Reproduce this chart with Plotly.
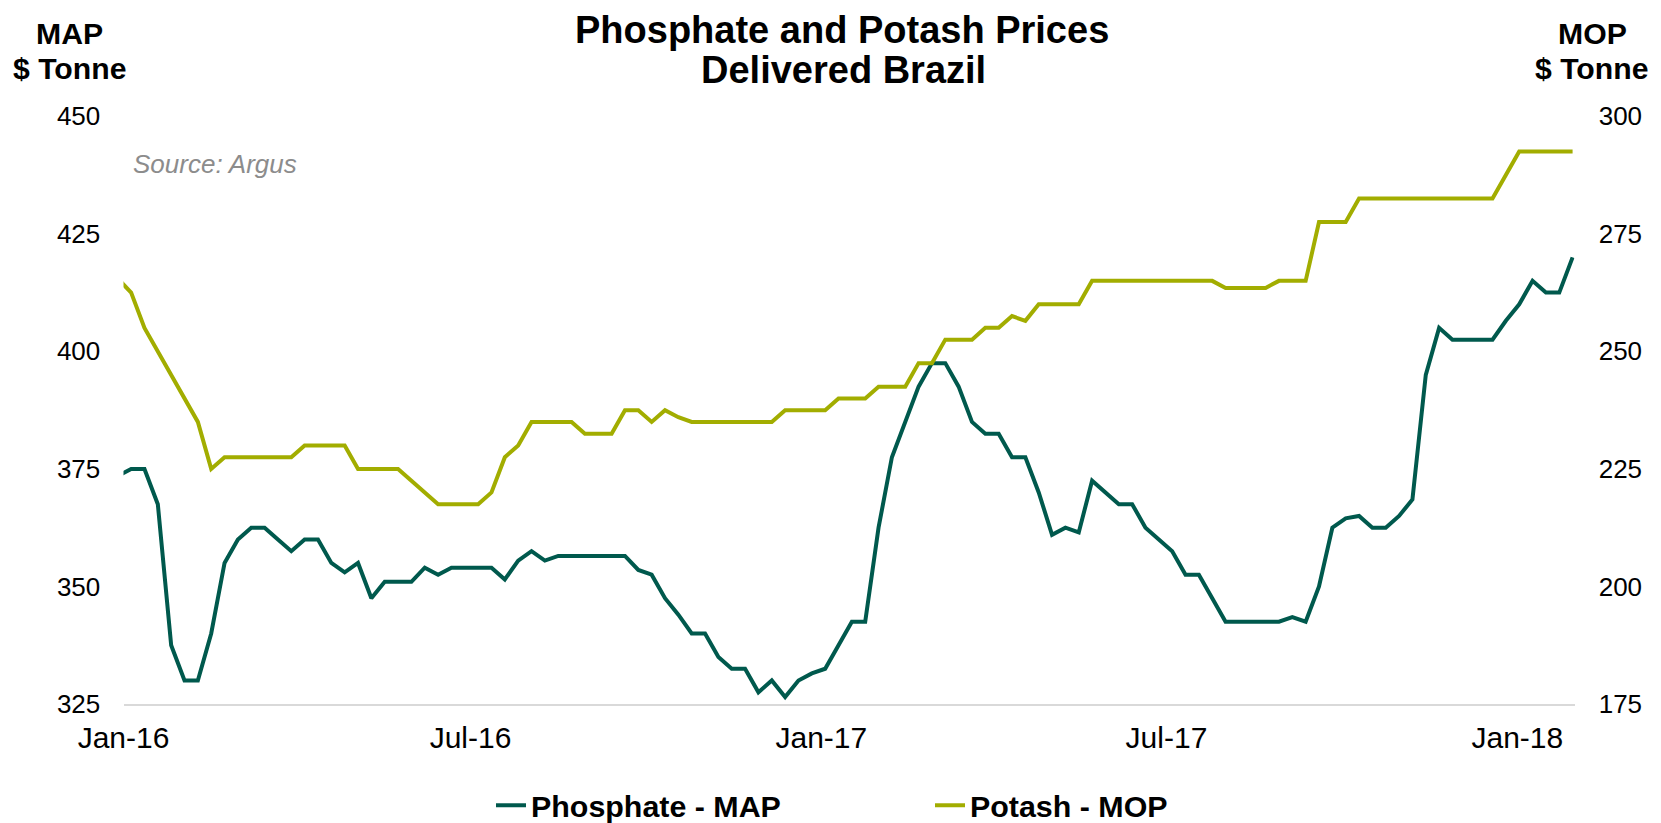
import pandas as pd
import plotly.graph_objects as go

# Weekly observation dates (first week starts just before the axis start)
start_date = "2015-12-29"
n_weeks = 110

# Phosphate - MAP, $/tonne (left axis)
map_prices = [
    373.5, 375, 375, 367.5, 337.5, 330, 330, 340, 355, 360,
    362.5, 362.5, 360, 357.5, 360, 360, 355, 353, 355, 347.5,
    351, 351, 351, 354, 352.5, 354, 354, 354, 354, 351.5,
    355.5, 357.5, 355.5, 356.5, 356.5, 356.5, 356.5, 356.5, 356.5, 353.5,
    352.5, 347.5, 344, 340, 340, 335, 332.5, 332.5, 327.5, 330,
    326.5, 330, 331.5, 332.5, 337.5, 342.5, 342.5, 362.5, 377.5, 385,
    392.5, 397.5, 397.5, 392.5, 385, 382.5, 382.5, 377.5, 377.5, 370,
    361, 362.5, 361.5, 372.5, 370, 367.5, 367.5, 362.5, 360, 357.5,
    352.5, 352.5, 347.5, 342.5, 342.5, 342.5, 342.5, 342.5, 343.5, 342.5,
    350, 362.5, 364.5, 365, 362.5, 362.5, 365, 368.5, 395, 405,
    402.5, 402.5, 402.5, 402.5, 406.5, 410, 415, 412.5, 412.5, 420,
]

# Potash - MOP, $/tonne (right axis)
mop_prices = [
    265.5, 262.5, 255, 250, 245, 240, 235, 225, 227.5, 227.5,
    227.5, 227.5, 227.5, 227.5, 230, 230, 230, 230, 225, 225,
    225, 225, 222.5, 220, 217.5, 217.5, 217.5, 217.5, 220, 227.5,
    230, 235, 235, 235, 235, 232.5, 232.5, 232.5, 237.5, 237.5,
    235, 237.5, 236, 235, 235, 235, 235, 235, 235, 235,
    237.5, 237.5, 237.5, 237.5, 240, 240, 240, 242.5, 242.5, 242.5,
    247.5, 247.5, 252.5, 252.5, 252.5, 255, 255, 257.5, 256.5, 260,
    260, 260, 260, 265, 265, 265, 265, 265, 265, 265,
    265, 265, 265, 263.5, 263.5, 263.5, 263.5, 265, 265, 265,
    277.5, 277.5, 277.5, 282.5, 282.5, 282.5, 282.5, 282.5, 282.5, 282.5,
    282.5, 282.5, 282.5, 282.5, 287.5, 292.5, 292.5, 292.5, 292.5, 292.5,
]

x_tick_dates = ["2016-01-01", "2016-07-01", "2017-01-01", "2017-07-01", "2018-01-01"]
x_tick_labels = ["Jan-16", "Jul-16", "Jan-17", "Jul-17", "Jan-18"]
map_ticks = [325, 350, 375, 400, 425, 450]
mop_ticks = [175, 200, 225, 250, 275, 300]

dates = pd.date_range(start_date, periods=n_weeks, freq="7D")

MAP_COLOR = "#00594d"
MOP_COLOR = "#a2ad00"
FONT = "Liberation Sans, Arial, sans-serif"

# Figure geometry (page is offset by the default 8px body margin)
OFF = 8
W, H = 1661, 830


def fx(page_x):
    return (page_x - OFF) / W


def fy(page_y):
    return 1 - (page_y - OFF) / H


fig = go.Figure()
fig.add_trace(go.Scatter(
    x=dates, y=map_prices, name="Phosphate - MAP", mode="lines",
    line=dict(color=MAP_COLOR, width=4), yaxis="y",
))
fig.add_trace(go.Scatter(
    x=dates, y=mop_prices, name="Potash - MOP", mode="lines",
    line=dict(color=MOP_COLOR, width=4), yaxis="y2",
))

texts = [
    ("<b>Phosphate and Potash Prices</b>", 842, 30.0, 38),
    ("<b>Delivered Brazil</b>", 843, 70, 38),
    ("<b>MAP</b>", 69.8, 33.8, 30.2),
    ("<b>$ Tonne</b>", 69.5, 68, 30.2),
    ("<b>MOP</b>", 1592, 33.0, 30.2),
    ("<b>$ Tonne</b>", 1591.6, 68.7, 30.2),
]
ann_objs = []
for txt, px, py, size in texts:
    ann_objs.append(dict(
        text=txt, x=fx(px), y=fy(py), xref="paper", yref="paper",
        xanchor="center", yanchor="middle", showarrow=False,
        font=dict(family=FONT, size=size, color="#000000"),
    ))
ann_objs.append(dict(
    text="<i>Source: Argus</i>", x=fx(131), y=fy(163.8), xref="paper", yref="paper",
    xanchor="left", yanchor="middle", showarrow=False,
    font=dict(family=FONT, size=26, color="#8c8c8c"),
))

fig.update_layout(
    width=W, height=H,
    margin=dict(l=0, r=0, t=0, b=0, pad=0),
    paper_bgcolor="white", plot_bgcolor="white",
    font=dict(family=FONT, color="#000000"),
    showlegend=True,
    legend=dict(
        orientation="h", x=fx(491), y=fy(805.5), xanchor="left", yanchor="middle",
        font=dict(family=FONT, size=30.4, color="#000000", weight="bold"),
        entrywidth=394, entrywidthmode="pixels",
        bgcolor="rgba(0,0,0,0)", borderwidth=0,
    ),
    annotations=ann_objs,
    xaxis=dict(
        domain=[fx(123.5), fx(1574.5)],
        type="date", range=["2016-01-01", "2018-01-31"],
        tickvals=x_tick_dates, ticktext=x_tick_labels,
        showgrid=False, zeroline=False, automargin=False,
        showline=True, linecolor="#d9d9d9", linewidth=2,
        ticks="outside", ticklen=6, tickcolor="rgba(0,0,0,0)",
        tickfont=dict(family=FONT, size=30, color="#000000"),
        anchor="y",
    ),
    yaxis=dict(
        domain=[fy(704), fy(116.3)],
        range=[325, 450], tickvals=map_ticks,
        showgrid=False, zeroline=False, showline=False, automargin=False,
        ticks="outside", ticklen=17, tickcolor="rgba(0,0,0,0)",
        tickfont=dict(family=FONT, size=26, color="#000000"),
        anchor="x",
    ),
    yaxis2=dict(
        range=[175, 300], tickvals=mop_ticks, overlaying="y", side="right",
        showgrid=False, zeroline=False, showline=False, automargin=False,
        ticks="outside", ticklen=18, tickcolor="rgba(0,0,0,0)",
        tickfont=dict(family=FONT, size=26, color="#000000"),
        anchor="x",
    ),
)

fig.write_html("out.html")
